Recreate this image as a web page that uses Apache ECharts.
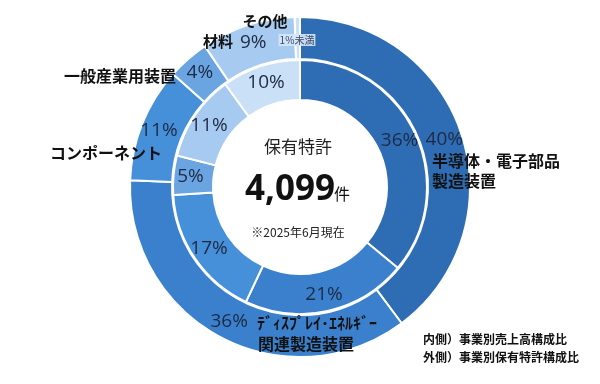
<!DOCTYPE html>
<html>
<head>
<meta charset="utf-8">
<script src="https://cdn.jsdelivr.net/npm/echarts@6/dist/echarts.min.js"></script>
<style>
  html, body { margin: 0; padding: 0; background: #ffffff; }
  #chart { width: 600px; height: 384px; }
</style>
</head>
<body>
<div id="chart"></div>
<script>
// Business segments, in ring order (clockwise from 12 o'clock)
const categories = ['半導体・電子部品製造装置', 'ディスプレイ・エネルギー関連製造装置', 'コンポーネント', '一般産業用装置', '材料', 'その他'];
// Inner ring: sales share by segment (%)
const salesShare = [36, 21, 17, 5, 11, 10];
// Outer ring: patent share by segment (%); "その他" is under 1%
const patentShare = [40, 36, 11, 4, 9, 0.5];
const patentLabelText = ['40%', '36%', '11%', '4%', '9%', ''];
// Segment colours
const segmentColors = ['#2E6DB4', '#3A80CC', '#4690D9', '#6AA5E2', '#A7CBF0', '#C9E0F7'];

const totalPatents = '4,099';
const fontJP = '"Noto Sans CJK JP", "Noto Sans", sans-serif';
const fontNum = '"Open Sans", "Noto Sans", "Noto Sans CJK JP", sans-serif';
const pctColor = '#1E2A44';

const cx = 300, cy = 187;

function ringData(values, labels) {
  return values.map((v, i) => ({
    name: categories[i],
    value: v,
    itemStyle: { color: segmentColors[i] },
    label: { formatter: labels ? labels[i] : v + '%' }
  }));
}

const chart = echarts.init(document.getElementById('chart'), null, { renderer: 'canvas' });

const ringBase = {
  type: 'pie',
  center: [cx, cy],
  startAngle: 90,
  clockwise: true,
  silent: true,
  animation: false,
  avoidLabelOverlap: false,
  labelLine: { show: false },
  itemStyle: { borderColor: '#ffffff', borderWidth: 2 },
  label: {
    show: true,
    position: 'inside',
    color: pctColor,
    fontFamily: fontNum,
    fontSize: 19,
    fontWeight: 'normal'
  }
};

// Category name annotations around the rings
const nameStyle = { fill: '#111111', fontFamily: fontJP, fontWeight: 'bold', fontSize: 15 };
function nameText(text, x, y, size, align) {
  return {
    type: 'text', x: x, y: y, z: 100,
    style: Object.assign({}, nameStyle, { text: text, fontSize: size || 15, textAlign: align || 'left', textVerticalAlign: 'middle', lineHeight: 20 })
  };
}
function plainText(text, x, y, extra) {
  return {
    type: 'text', x: x, y: y, z: 100,
    style: Object.assign({ text: text, fontFamily: fontJP, fill: '#222222', textAlign: 'center', textVerticalAlign: 'middle' }, extra)
  };
}

chart.setOption({
  backgroundColor: '#ffffff',
  series: [
    Object.assign({}, ringBase, { name: '売上高構成比', radius: [87, 127], data: ringData(salesShare) }),
    Object.assign({}, ringBase, { name: '保有特許構成比', radius: [128, 170], data: ringData(patentShare, patentLabelText) })
  ],
  graphic: [
    // centre caption
    plainText('保有特許', cx - 2, 147, { fontSize: 17 }),
    plainText(totalPatents, 290, 190, { fontFamily: fontNum, fontWeight: 'bold', fontSize: 35, fill: '#111111' }),
    plainText('件', 334, 194, { fontSize: 16, fill: '#111111', textAlign: 'left' }),
    plainText('※2025年6月現在', cx - 2, 232, { fontSize: 12 }),

    // segment names
    nameText('その他', 265, 21, 15, 'center'),
    plainText('1%未満', 297, 40, { fontSize: 10, fill: '#3A4A66', backgroundColor: 'rgba(214,230,246,0.9)', padding: [1, 1] }),
    nameText('材料', 218, 41, 15, 'center'),
    nameText('一般産業用装置', 120, 76, 16, 'center'),
    nameText('コンポーネント', 106, 153, 16, 'center'),
    nameText('半導体・電子部品', 432, 161, 16, 'left'),
    nameText('製造装置', 432, 181, 16, 'left'),
    nameText('ﾃﾞｨｽﾌﾟﾚｲ･ｴﾈﾙｷﾞｰ', 257, 323, 16, 'left'),
    nameText('関連製造装置', 306, 344, 16, 'center'),

    // ring key
    plainText('内側）事業別売上高構成比', 423, 339, { fontWeight: 'bold', fontSize: 12, fill: '#111111', textAlign: 'left' }),
    plainText('外側）事業別保有特許構成比', 423, 357, { fontWeight: 'bold', fontSize: 12, fill: '#111111', textAlign: 'left' })
  ]
});
</script>
</body>
</html>
